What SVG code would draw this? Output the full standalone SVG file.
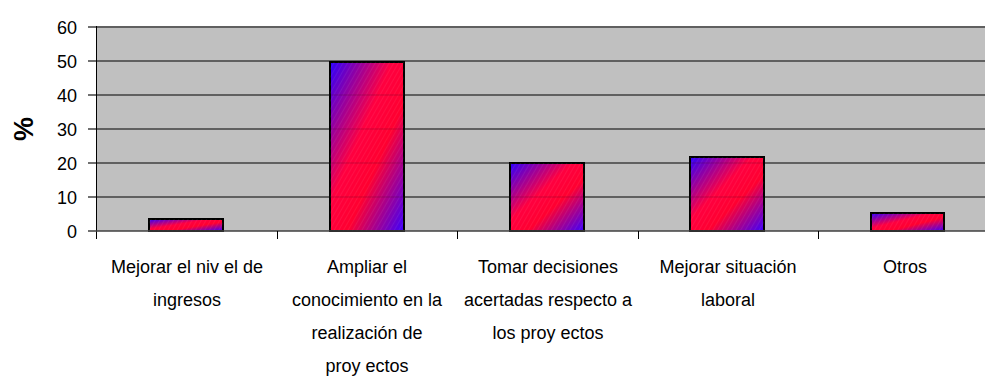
<svg xmlns="http://www.w3.org/2000/svg" width="985" height="376" viewBox="0 0 985 376">
<style>
.grid{stroke:#404040;stroke-width:1.4;fill:none}
.gridover{stroke:#400020;stroke-width:1.4;stroke-opacity:0.18;fill:none}
.axis{stroke:#000;stroke-width:1;fill:none}
.tick{font-family:"Liberation Sans",Arial,sans-serif;font-size:18px;fill:#000;text-anchor:end}
.cat{font-family:"Liberation Sans",Arial,sans-serif;font-size:18px;fill:#000;text-anchor:middle}
.bar{fill:url(#barGrad);stroke:#000;stroke-width:2}
.hatch{fill:url(#hatch);stroke:none}
</style>
<defs>
<linearGradient id="barGrad" x1="0" y1="0" x2="1" y2="1">
<stop offset="0" stop-color="#2a00ff"/>
<stop offset="0.42" stop-color="#ff0040"/>
<stop offset="0.62" stop-color="#ff0030"/>
<stop offset="1" stop-color="#3a00ff"/>
</linearGradient>
<pattern id="hatch" patternUnits="userSpaceOnUse" width="4" height="4" patternTransform="rotate(30)">
<line x1="0" y1="0" x2="0" y2="4" stroke="#ffffff" stroke-opacity="0.12" stroke-width="1"/>
</pattern>
</defs>
<g id="plot">
<rect x="96" y="26" width="889" height="205" fill="#c0c0c0"/>
<g id="gridlines">
<line class="grid" x1="88" y1="27" x2="985" y2="27"/>
<line class="grid" x1="88" y1="61" x2="985" y2="61"/>
<line class="grid" x1="88" y1="95" x2="985" y2="95"/>
<line class="grid" x1="88" y1="129" x2="985" y2="129"/>
<line class="grid" x1="88" y1="163" x2="985" y2="163"/>
<line class="grid" x1="88" y1="197" x2="985" y2="197"/>
</g>
</g>
<g id="bars">
<g id="bar1"><rect class="bar" x="149" y="219" width="74" height="12"/><rect class="hatch" x="149" y="219" width="74" height="12"/></g>
<g id="bar2"><rect class="bar" x="330" y="62" width="74" height="169"/><rect class="hatch" x="330" y="62" width="74" height="169"/></g>
<g id="bar3"><rect class="bar" x="510" y="163" width="74" height="68"/><rect class="hatch" x="510" y="163" width="74" height="68"/></g>
<g id="bar4"><rect class="bar" x="690" y="157" width="74" height="74"/><rect class="hatch" x="690" y="157" width="74" height="74"/></g>
<g id="bar5"><rect class="bar" x="871" y="213" width="73" height="18"/><rect class="hatch" x="871" y="213" width="73" height="18"/></g>
</g>
<g id="gridthrough">
<line class="gridover" x1="331" y1="95" x2="403" y2="95"/>
<line class="gridover" x1="331" y1="129" x2="403" y2="129"/>
<line class="gridover" x1="331" y1="163" x2="403" y2="163"/>
<line class="gridover" x1="331" y1="197" x2="403" y2="197"/>
<line class="gridover" x1="511" y1="197" x2="583" y2="197"/>
<line class="gridover" x1="691" y1="163" x2="763" y2="163"/>
<line class="gridover" x1="691" y1="197" x2="763" y2="197"/>
</g>
<g id="axes">
<line class="axis" x1="96.5" y1="26" x2="96.5" y2="239"/>
<line class="grid" x1="88" y1="231" x2="985" y2="231"/>
<line class="axis" x1="277.5" y1="231" x2="277.5" y2="239"/>
<line class="axis" x1="457.5" y1="231" x2="457.5" y2="239"/>
<line class="axis" x1="638.5" y1="231" x2="638.5" y2="239"/>
<line class="axis" x1="818.5" y1="231" x2="818.5" y2="239"/>
</g>
<g id="ylabels">
<text class="tick" x="77" y="33.5">60</text>
<text class="tick" x="77" y="67.5">50</text>
<text class="tick" x="77" y="101.5">40</text>
<text class="tick" x="77" y="135.5">30</text>
<text class="tick" x="77" y="169.5">20</text>
<text class="tick" x="77" y="203.5">10</text>
<text class="tick" x="77" y="237.5">0</text>
</g>
<text id="ytitle" transform="translate(33,129) rotate(-90)" font-family="Liberation Sans,Arial,sans-serif" font-size="27" font-weight="bold" text-anchor="middle">%</text>
<g id="xlabels">
<text class="cat" x="187" y="273">Mejorar el niv el de</text>
<text class="cat" x="187" y="306">ingresos</text>
<text class="cat" x="367" y="273">Ampliar el</text>
<text class="cat" x="367" y="306">conocimiento en la</text>
<text class="cat" x="367" y="339">realización de</text>
<text class="cat" x="367" y="372">proy ectos</text>
<text class="cat" x="548" y="273">Tomar decisiones</text>
<text class="cat" x="548" y="306">acertadas respecto a</text>
<text class="cat" x="548" y="339">los proy ectos</text>
<text class="cat" x="728" y="273">Mejorar situación</text>
<text class="cat" x="728" y="306">laboral</text>
<text class="cat" x="905" y="273">Otros</text>
</g>
</svg>
